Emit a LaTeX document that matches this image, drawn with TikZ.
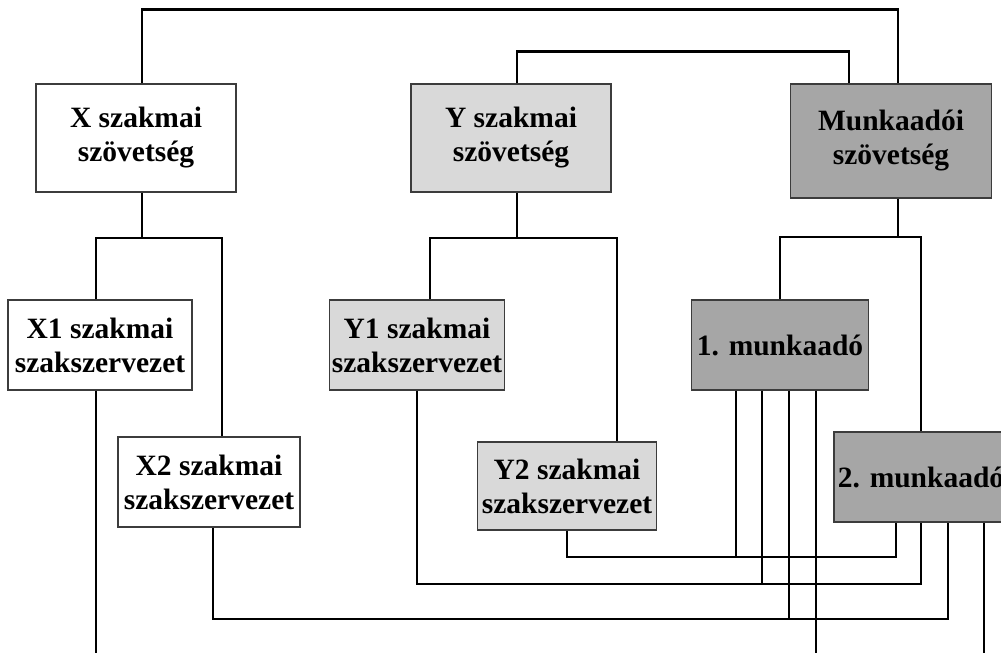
\documentclass[tikz,border=0pt]{standalone}
\usepackage{fontspec}
\setmainfont{Liberation Serif}
\usepackage{tikz}
\usetikzlibrary{positioning,calc}
\definecolor{lightgrey}{RGB}{217,217,217}
\definecolor{darkgrey}{RGB}{166,166,166}
\definecolor{framegrey}{RGB}{60,60,60}

\begin{document}
\begin{tikzpicture}[x=1pt, y=-1pt,
  every node/.style={font=\fontsize{29.5}{34}\selectfont\bfseries},
  box/.style={rectangle, draw=framegrey, line width=1.3pt, align=center, inner sep=0pt},
  xbox/.style={box, fill=white},
  ybox/.style={box, fill=lightgrey},
  mbox/.style={box, fill=darkgrey},
  link/.style={line width=2.3pt}]
  \useasboundingbox (0,0) rectangle (1001,653);

  % federations
  \node[xbox, minimum width=200pt, minimum height=108pt] (xsz) at (136,138) {X szakmai\\szövetség};
  \node[ybox, minimum width=200pt, minimum height=108pt] (ysz) at (511,138) {Y szakmai\\szövetség};
  \node[mbox, minimum width=201pt, minimum height=114pt] (msz) at (891,141) {Munkaadói\\szövetség};

  % unions and employers
  \node[xbox, minimum width=184pt, minimum height=90pt] (x1) at (100,345) {X1 szakmai\\szakszervezet};
  \node[xbox, minimum width=182pt, minimum height=90pt] (x2) at (209,482) {X2 szakmai\\szakszervezet};
  \node[ybox, minimum width=175pt, minimum height=90pt] (y1) at (417,345) {Y1 szakmai\\szakszervezet};
  \node[ybox, minimum width=179pt, minimum height=88pt] (y2) at (567,486) {Y2 szakmai\\szakszervezet};
  \node[mbox, minimum width=177pt, minimum height=90pt] (m1) at (780,345) {1. munkaadó};
  \node[mbox, minimum width=174pt, minimum height=90pt] (m2) at (921,477) {2. munkaadó};

  % links between the federations
  \draw[link] ([xshift=6pt]xsz.north) -- ++(0,-74) -| ([xshift=7pt]msz.north);
  \draw[link] ([xshift=6pt]ysz.north) -- ++(0,-32) -| ([xshift=-42pt]msz.north);

  % member trees
  \coordinate (xbus) at (142,238);
  \coordinate (ybus) at (517,238);
  \coordinate (mbus) at (898,237);
  \draw[link] ([xshift=6pt]xsz.south) -- (xbus);
  \draw[link] ([xshift=-4pt]x1.north) |- (xbus) -| ([xshift=13pt]x2.north);
  \draw[link] ([xshift=6pt]ysz.south) -- (ybus);
  \draw[link] ([xshift=13pt]y1.north) |- (ybus) -| ([xshift=50pt]y2.north);
  \draw[link] ([xshift=7pt]msz.south) -- (mbus);
  \draw[link] (m1.north) |- (mbus) -| (m2.north);

  % unions to the 2. employer
  \draw[link] ([xshift=-4pt]x1.south) -- ++(0,263);
  \draw[link] ([xshift=4pt]x2.south) -- ++(0,91) -| ([xshift=27pt]m2.south);
  \draw[link] (y1.south) -- ++(0,193) -| (m2.south);
  \draw[link] (y2.south) -- ++(0,26) -| ([xshift=-25pt]m2.south);
  \draw[link] ([xshift=63pt]m2.south) -- ++(0,131);

  % drops from the 1. employer
  \foreach \dx/\len in {-44/166, -18/193, 9/228, 36/263}
    \draw[link] ([xshift=\dx pt]m1.south) -- ++(0,\len);
\end{tikzpicture}
\end{document}
